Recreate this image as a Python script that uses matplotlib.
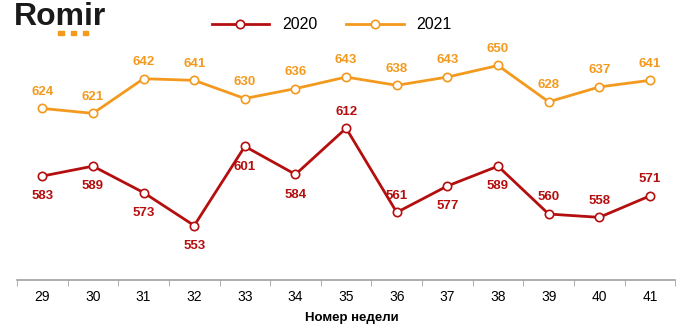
import matplotlib.pyplot as plt
from matplotlib.ticker import FixedLocator

plt.rcParams['font.family'] = ['Liberation Sans', 'DejaVu Sans']

weeks = [29, 30, 31, 32, 33, 34, 35, 36, 37, 38, 39, 40, 41]
values_2020 = [583, 589, 573, 553, 601, 584, 612, 561, 577, 589, 560, 558, 571]
values_2021 = [624, 621, 642, 641, 630, 636, 643, 638, 643, 650, 628, 637, 641]
# label above (+1) or below (-1) the 2020 points
pos_2020 = [-1, -1, -1, -1, -1, -1, 1, 1, -1, -1, 1, 1, 1]

red = '#B50E0E'
orange = '#F39A1E'

fig = plt.figure(figsize=(6.8, 3.33), dpi=100)
ax = fig.add_axes([0.025, 0.159, 0.968, 0.793])

ax.plot(weeks, values_2020, color=red, lw=2, marker='o', ms=6,
        mfc='white', mec=red, mew=1.2, label='2020')
ax.plot(weeks, values_2021, color=orange, lw=2, marker='o', ms=6,
        mfc='white', mec=orange, mew=1.2, label='2021')

for w, v in zip(weeks, values_2021):
    ax.annotate(str(v), (w, v), xytext=(0, 12), textcoords='offset points',
                ha='center', va='center', fontsize=9.5, fontweight='bold', color=orange)
for w, v, p in zip(weeks, values_2020, pos_2020):
    dy = 12 if p > 0 else -14.5
    ax.annotate(str(v), (w, v), xytext=(0, dy), textcoords='offset points',
                ha='center', va='center', fontsize=9.5, fontweight='bold', color=red)

ax.set_xlim(28.5, 41.5)
ax.set_ylim(520, 680)
ax.set_yticks([])
ax.set_xticks(weeks)
ax.set_xticklabels([str(w) for w in weeks], fontsize=10)
ax.xaxis.set_minor_locator(FixedLocator([28.5 + k for k in range(14)]))
ax.tick_params(axis='x', which='major', length=0, pad=7)
ax.tick_params(axis='x', which='minor', length=4, color='#A0A0A0', direction='out')
for s in ['top', 'right', 'left']:
    ax.spines[s].set_visible(False)
ax.spines['bottom'].set_color('#A0A0A0')
ax.spines['bottom'].set_linewidth(1.2)
ax.set_xlabel('Номер недели', fontsize=9.5, fontweight='bold')
ax.xaxis.set_label_coords(0.508, -0.12)

ax.legend(loc='center', bbox_to_anchor=(0.478, 0.966), ncol=2, frameon=False,
          fontsize=11.5, handlelength=3.6, columnspacing=1.8, borderaxespad=0)

# logo
fig.text(0.02, 0.948, 'Romir', fontsize=23, fontweight='bold', color='#1A1A1A',
         ha='left', va='center')
for i in range(3):
    fig.patches.append(plt.Rectangle((0.086 + i * 0.018, 0.895), 0.0075, 0.013,
                                     transform=fig.transFigure, color='#F39A1E'))

fig.savefig('out.png', dpi=100)
